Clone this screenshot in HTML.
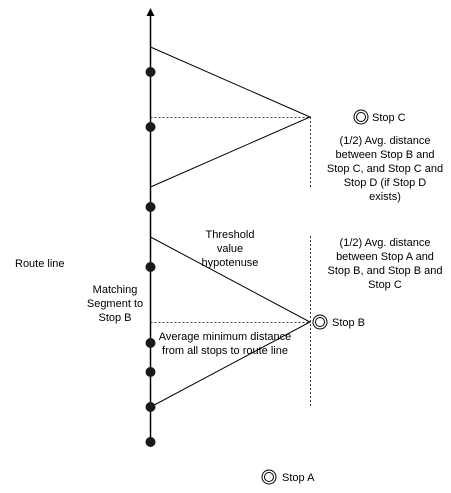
<!DOCTYPE html>
<html><head><style>
html,body{margin:0;padding:0;background:#fff;}
svg text{font-family:"Liberation Sans",Arial,sans-serif;font-size:11px;fill:#000;}
</style></head><body>
<svg width="451" height="488" viewBox="0 0 451 488" xmlns="http://www.w3.org/2000/svg">
<g stroke="#000" fill="none">
<line x1="150.5" y1="14" x2="150.5" y2="442" stroke-width="1.5"/>
<polyline points="150.5,47 310,117 150.5,187"/>
<polyline points="150.5,237 310,322 150.5,407"/>
<g stroke-dasharray="2,2" stroke-width="0.8">
<line x1="150.5" y1="117.5" x2="310" y2="117.5"/>
<line x1="150.5" y1="322.5" x2="310" y2="322.5"/>
<line x1="310.5" y1="117" x2="310.5" y2="187"/>
<line x1="310.5" y1="236" x2="310.5" y2="407"/>
</g>
<circle cx="361" cy="117" r="7"/><circle cx="361" cy="117" r="4.5"/>
<circle cx="320" cy="322" r="7"/><circle cx="320" cy="322" r="4.5"/>
<circle cx="269" cy="477" r="7"/><circle cx="269" cy="477" r="4.5"/>
</g>
<polygon points="150.5,8 146.5,16 154.5,16" fill="#000"/>
<g fill="#1a1a1a">
<circle cx="150.5" cy="72" r="5"/><circle cx="150.5" cy="127" r="5"/>
<circle cx="150.5" cy="207" r="5"/><circle cx="150.5" cy="267" r="5"/>
<circle cx="150.5" cy="343" r="5"/><circle cx="150.5" cy="372" r="5"/>
<circle cx="150.5" cy="407" r="5"/><circle cx="150.5" cy="442" r="5"/>
</g>
<text x="372" y="121">Stop C</text>
<text x="332" y="326">Stop B</text>
<text x="282" y="481">Stop A</text>
<g text-anchor="middle">
<text x="385" y="144">(1/2) Avg. distance</text>
<text x="385" y="158">between Stop B and</text>
<text x="385" y="172">Stop C, and Stop C and</text>
<text x="385" y="186">Stop D (if Stop D</text>
<text x="385" y="200">exists)</text>
<text x="385" y="246">(1/2) Avg. distance</text>
<text x="385" y="260">between Stop A and</text>
<text x="385" y="274">Stop B, and Stop B and</text>
<text x="385" y="288">Stop C</text>
<text x="230" y="238">Threshold</text>
<text x="230" y="252">value</text>
<text x="230" y="266">hypotenuse</text>
<text x="115" y="293">Matching</text>
<text x="115" y="307">Segment to</text>
<text x="115" y="321">Stop B</text>
<text x="225" y="340">Average minimum distance</text>
<text x="225" y="354">from all stops to route line</text>
</g>
<text x="15" y="267">Route line</text>
</svg>
</body></html>
